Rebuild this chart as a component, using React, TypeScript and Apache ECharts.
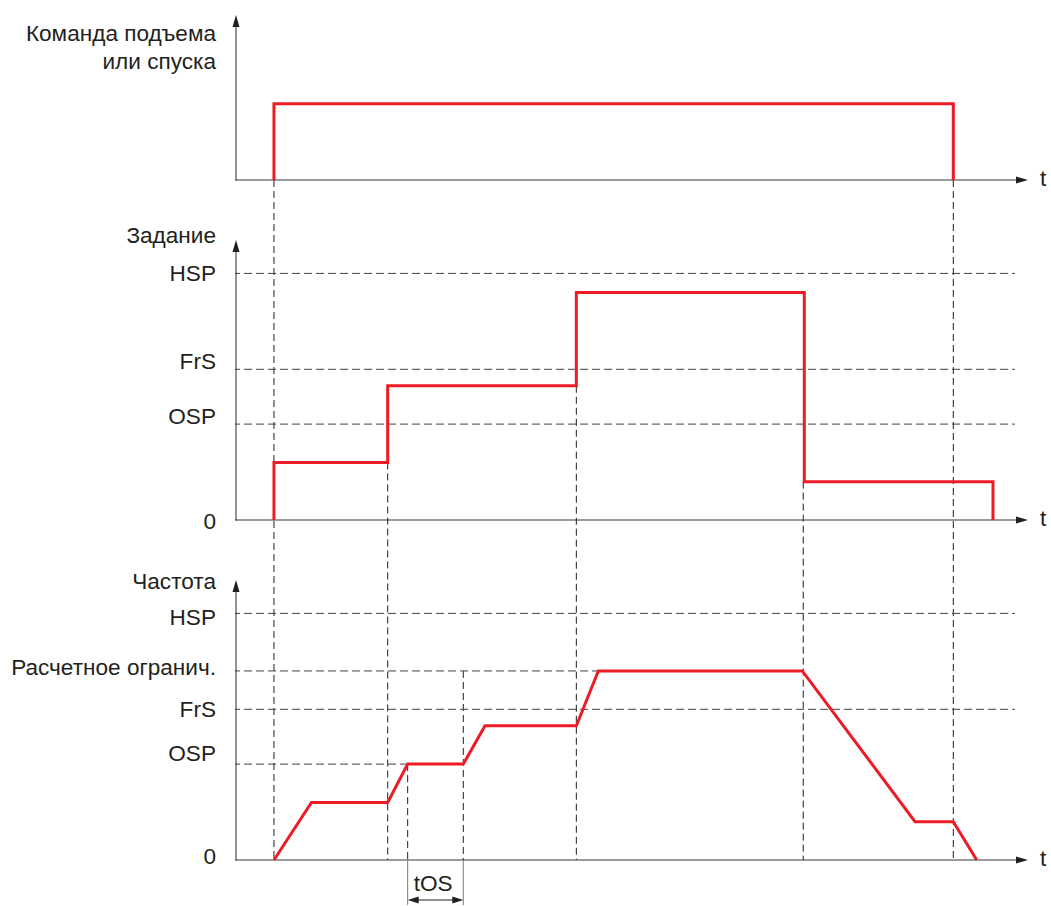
import React, { useEffect, useRef } from 'react';
import * as echarts from 'echarts';

// ---------------- data ----------------
const TIME_MAX = 100;
const LEVEL_MAX = 100;

const panelTitles = ['Команда подъема\nили спуска', 'Задание', 'Частота'];
const timeAxisLabel = 't';
const zeroLabel = '0';

// top: lift / lower command
const commandTimes = [4.83, 4.83, 91.26, 91.26];
const commandValues = [0, 48, 48, 0];

// middle: setpoint
const setpointTimes = [4.83, 4.83, 19.3, 19.3, 43.3, 43.3, 72.3, 72.3, 96.31, 96.31];
const setpointValues = [0, 21, 21, 49, 49, 83, 83, 14, 14, 0];

// bottom: frequency
const frequencyTimes = [4.83, 9.6, 19.3, 21.84, 28.92, 31.68, 43.3, 46.1, 72.05, 86.39, 91.26, 94.24];
const frequencyValues = [0, 21, 21, 35, 35, 49, 49, 69, 69, 14, 14, 0];

// reference levels
const setpointRefNames = ['HSP', 'FrS', 'OSP'];
const setpointRefValues = [90, 55, 35];
const setpointRefEnds = [99.1, 99.1, 99.1];

const frequencyRefNames = ['HSP', 'Расчетное огранич.', 'FrS', 'OSP'];
const frequencyRefValues = [90, 69, 55, 35];
const frequencyRefEnds = [99.1, 46.1, 99.1, 21.84];

const refStart = -0.5;

// vertical guide lines (time, from panel/value, to panel/value)
const guideTimes = [4.83, 19.3, 43.3, 72.17, 91.26, 21.84, 28.92];
const guideFromPanel = [0, 1, 1, 1, 0, 2, 2];
const guideFromValue = [0, 21, 49, 14, 0, 35, 69];
const guideToPanel = [2, 2, 2, 2, 2, 2, 2];
const guideToValue = [0, 0, 0, 0, 0, 0, 0];

// tOS interval
const tosLabel = 'tOS';
const tosStart = 21.84;
const tosEnd = 28.92;

// ---------------- styles / layout ----------------
const RED = '#ED1C24';
const INK = '#231f20';
const FONT = '"Liberation Sans", Arial, Helvetica, sans-serif';
const FS = 22.6;

const grids = [
  { left: 236, top: 21, width: 786, height: 159 },
  { left: 236, top: 246, width: 786, height: 274 },
  { left: 236, top: 586, width: 786, height: 274 },
];
const titleStyle = [
  { dy: -2, va: 'top' },
  { dy: -11, va: 'middle' },
  { dy: -5, va: 'middle' },
];
const setpointLabelDy = [0, -8, -7.5];
const frequencyLabelDy = [4, -3.5, 0, -11];
const zeroLabelDy = [0, 1, -3.5];
const LABEL_DX = -20;

const zip = (a: number[], b: number[]) => a.map((v, i) => [v, b[i]]);

export default function App() {
  const ref = useRef<HTMLDivElement>(null);

  useEffect(() => {
    document.body.style.margin = '0';
    const chart = echarts.init(ref.current!, null, { renderer: 'svg' });

    const axisLine = (sym: string) => ({
      show: true,
      onZero: false,
      symbol: ['none', sym],
      symbolSize: [7, 12],
      lineStyle: { color: INK, opacity: 0.6, width: 1.6 },
    });

    const xAxis = grids.map((_, i) => ({
      gridIndex: i,
      type: 'value',
      min: 0,
      max: TIME_MAX,
      axisLine: axisLine('triangle'),
      axisTick: { show: false },
      axisLabel: { show: false },
      splitLine: { show: false },
    }));
    const yAxis = grids.map((_, i) => ({
      gridIndex: i,
      type: 'value',
      min: 0,
      max: LEVEL_MAX,
      axisLine: axisLine('triangle'),
      axisTick: { show: false },
      axisLabel: { show: false },
      splitLine: { show: false },
    }));

    const refSeries = (panel: number, names: string[], values: number[], ends: number[]) =>
      names.map((n, i) => ({
        name: n,
        type: 'line',
        xAxisIndex: panel,
        yAxisIndex: panel,
        data: [[refStart, values[i]], [ends[i], values[i]]],
        symbol: 'none',
        clip: false,
        silent: true,
        z: 2,
        lineStyle: { color: '#404040', width: 1, type: [8, 4] },
      }));

    const redSeries = (panel: number, t: number[], v: number[]) => ({
      type: 'line',
      xAxisIndex: panel,
      yAxisIndex: panel,
      data: zip(t, v),
      symbol: 'none',
      clip: false,
      silent: true,
      z: 5,
      lineStyle: { color: RED, width: 3, join: 'miter', cap: 'butt' },
    });

    chart.setOption({
      animation: false,
      grid: grids.map((g) => ({ ...g, containLabel: false })),
      xAxis,
      yAxis,
      series: [
        ...refSeries(1, setpointRefNames, setpointRefValues, setpointRefEnds),
        ...refSeries(2, frequencyRefNames, frequencyRefValues, frequencyRefEnds),
        redSeries(0, commandTimes, commandValues),
        redSeries(1, setpointTimes, setpointValues),
        redSeries(2, frequencyTimes, frequencyValues),
      ],
    });

    const px = (panel: number, t: number, v: number) =>
      chart.convertToPixel({ gridIndex: panel } as any, [t, v]) as number[];

    const textEl = (text: string, x: number, y: number, align: string, va: string, extra: any = {}) => ({
      type: 'text',
      x,
      y,
      silent: true,
      z: 10,
      style: { text, fill: INK, fontSize: FS, fontFamily: FONT, align, verticalAlign: va, ...extra },
    });

    const g: any[] = [];

    // vertical guides
    guideTimes.forEach((t, i) => {
      const a = px(guideFromPanel[i], t, guideFromValue[i]);
      const b = px(guideToPanel[i], t, guideToValue[i]);
      g.push({
        type: 'line',
        silent: true,
        z: 1,
        shape: { x1: a[0], y1: a[1], x2: b[0], y2: b[1] },
        style: { stroke: INK, lineWidth: 1, lineDash: [7, 4] },
      });
    });

    // panel titles and time-axis labels
    panelTitles.forEach((title, i) => {
      const p = px(i, 0, LEVEL_MAX);
      g.push(textEl(title, p[0] + LABEL_DX, p[1] + titleStyle[i].dy, 'right', titleStyle[i].va, { lineHeight: 28 }));
      const e = px(i, TIME_MAX, 0);
      g.push(textEl(timeAxisLabel, e[0] + 18, e[1] - 2, 'left', 'middle'));
    });

    // zero labels
    [1, 2].forEach((i) => {
      const p = px(i, 0, 0);
      g.push(textEl(zeroLabel, p[0] + LABEL_DX, p[1] + zeroLabelDy[i], 'right', 'middle'));
    });

    // level labels
    setpointRefNames.forEach((n, i) => {
      const p = px(1, 0, setpointRefValues[i]);
      g.push(textEl(n, p[0] + LABEL_DX, p[1] + setpointLabelDy[i], 'right', 'middle'));
    });
    frequencyRefNames.forEach((n, i) => {
      const p = px(2, 0, frequencyRefValues[i]);
      g.push(textEl(n, p[0] + LABEL_DX, p[1] + frequencyLabelDy[i], 'right', 'middle'));
    });

    // tOS annotation
    const s = px(2, tosStart, 0);
    const e = px(2, tosEnd, 0);
    const yA = s[1] + 40;
    [s, e].forEach((p) => {
      g.push({
        type: 'line',
        silent: true,
        z: 1,
        shape: { x1: p[0], y1: p[1], x2: p[0], y2: p[1] + 45 },
        style: { stroke: '#7b7b7b', lineWidth: 1 },
      });
    });
    g.push({
      type: 'line',
      silent: true,
      z: 3,
      shape: { x1: s[0] + 6, y1: yA, x2: e[0] - 6, y2: yA },
      style: { stroke: INK, lineWidth: 1 },
    });
    g.push({
      type: 'polygon',
      silent: true,
      z: 3,
      shape: { points: [[s[0], yA], [s[0] + 11, yA - 3.5], [s[0] + 11, yA + 3.5]] },
      style: { fill: INK },
    });
    g.push({
      type: 'polygon',
      silent: true,
      z: 3,
      shape: { points: [[e[0], yA], [e[0] - 11, yA - 3.5], [e[0] - 11, yA + 3.5]] },
      style: { fill: INK },
    });
    g.push(textEl(tosLabel, s[0] + 6, s[1] + 23, 'left', 'middle'));

    chart.setOption({ graphic: g });

    return () => chart.dispose();
  }, []);

  return <div ref={ref} style={{ width: 1051, height: 906 }} />;
}
